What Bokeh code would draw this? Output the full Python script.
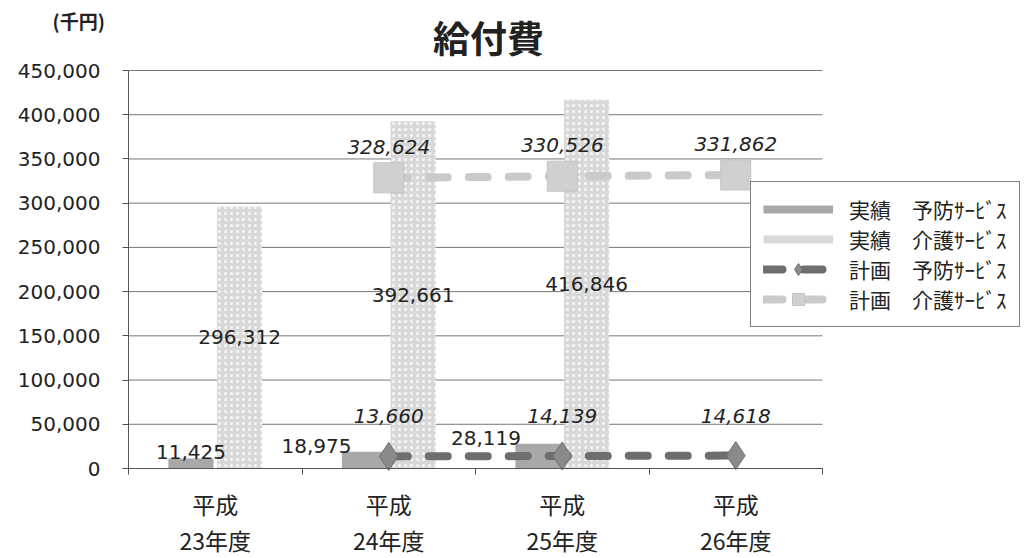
from bokeh.plotting import figure
from bokeh.models import (ColumnDataSource, FixedTicker, NumeralTickFormatter, Legend,
                          LegendItem, Label, Range1d)
from bokeh.core.properties import value
from bokeh.embed import file_html
from bokeh.resources import INLINE
import numpy as np

# ---------------- data ----------------
categories = ["平成\n23年度", "平成\n24年度", "平成\n25年度", "平成\n26年度"]
actual_yobo = [11425, 18975, 28119, None]      # 実績 予防サービス
actual_kaigo = [296312, 392661, 416846, None]  # 実績 介護サービス
plan_yobo = [None, 13660, 14139, 14618]        # 計画 予防サービス
plan_kaigo = [None, 328624, 330526, 331862]    # 計画 介護サービス
series_names = ["実績　予防ｻｰﾋﾞｽ", "実績　介護ｻｰﾋﾞｽ", "計画　予防ｻｰﾋﾞｽ", "計画　介護ｻｰﾋﾞｽ"]
y_ticks = [0, 50000, 100000, 150000, 200000, 250000, 300000, 350000, 400000, 450000]
title_text = "給付費"
unit_text = "(千円)"

# label nudges (px) for the actual 予防 labels (as placed in the original)
yobo_label_nudge = [0, -48, -52]

CJK = "Noto Sans CJK JP"
NUM = "DejaVu Sans"

# ---------------- layout (pixels) ----------------
W, H = 1036, 558
LEFT, RIGHT_EDGE, TOP, BOTTOM = 128, 822, 70, 468   # plot area of the categories
n = len(categories)
centers = np.arange(n) + 0.5
BAR_OFF = 0.14
BAR_W = 0.26

# the frame covers the whole canvas; axes are pinned at the data origin
px_per_x = (RIGHT_EDGE - LEFT) / n
px_per_y = (BOTTOM - TOP) / (y_ticks[-1] - y_ticks[0])
x_start = -LEFT / px_per_x
x_end = n + (W - RIGHT_EDGE) / px_per_x
y_start = y_ticks[0] - (H - BOTTOM) / px_per_y
y_end = y_ticks[-1] + TOP / px_per_y


def src(vals, off=0.0):
    idx = [i for i, v in enumerate(vals) if v is not None]
    xs = [centers[i] + off for i in idx]
    ys = [vals[i] for i in idx]
    return ColumnDataSource(dict(x=xs, y=ys, half=[v / 2 for v in ys],
                                 label=[f"{v:,}" for v in ys]))


s_ay = src(actual_yobo, -BAR_OFF)
s_ak = src(actual_kaigo, BAR_OFF)
s_py = src(plan_yobo)
s_pk = src(plan_kaigo)
s_ay.data["nudge"] = yobo_label_nudge[:len(s_ay.data["x"])]

p = figure(width=W, height=H, output_backend="svg", toolbar_location=None,
           x_range=Range1d(x_start, x_end), y_range=Range1d(y_start, y_end),
           min_border=0)
p.outline_line_color = None
p.background_fill_color = "white"
p.border_fill_color = "white"
p.title.visible = False

# axes (pinned at data origin so nothing takes side-panel space)
p.yaxis.fixed_location = 0
p.yaxis.bounds = (y_ticks[0], y_ticks[-1])
p.yaxis.ticker = FixedTicker(ticks=y_ticks)
p.yaxis.formatter = NumeralTickFormatter(format="0,0")
p.yaxis.major_label_text_font = NUM
p.yaxis.major_label_text_font_size = "20px"
p.yaxis.major_label_text_color = "#222222"
p.yaxis.axis_line_color = "#555555"
p.yaxis.major_tick_line_color = "#555555"
p.yaxis.major_tick_out = 6
p.yaxis.major_tick_in = 0
p.yaxis.minor_tick_line_color = None
p.yaxis.major_label_standoff = 22

p.xaxis.fixed_location = 0
p.xaxis.bounds = (0, n)
p.xaxis.ticker = FixedTicker(ticks=list(centers), minor_ticks=list(range(n + 1)))
p.xaxis.major_label_overrides = {float(c): cat for c, cat in zip(centers, categories)}
p.xaxis.major_label_text_font = CJK
p.xaxis.major_label_text_font_size = "23px"
p.xaxis.major_label_text_color = "#222222"
p.xaxis.major_label_text_line_height = 1.07
p.xaxis.major_label_standoff = 12
p.xaxis.major_tick_line_color = None
p.xaxis.minor_tick_line_color = "#555555"
p.xaxis.minor_tick_out = 6
p.xaxis.minor_tick_in = 0
p.xaxis.axis_line_color = "#555555"

p.xgrid.grid_line_color = None
p.ygrid.grid_line_color = None
# horizontal gridlines only across the category area
p.segment(x0=0, x1=n, y0=y_ticks, y1=y_ticks, line_color="#777777", line_width=1)

# bars
p.vbar(x="x", top="y", bottom=0, width=BAR_W, source=s_ay,
       fill_color="#a8a8a8", line_color=None)
p.vbar(x="x", top="y", bottom=0, width=BAR_W, source=s_ak,
       fill_color="#d8d8d8", line_color=None,
       hatch_pattern="dot", hatch_color="white", hatch_scale=6, hatch_alpha=0.8)

# plan lines
l_pk = p.line(x="x", y="y", source=s_pk, line_color="#cacaca", line_width=8,
              line_dash="19 21", line_cap="round")
m_pk = p.scatter(x="x", y="y", source=s_pk, marker="square", size=30,
                 fill_color="#d0d0d0", line_color="#c4c4c4")
l_py = p.line(x="x", y="y", source=s_py, line_color="#6e6e6e", line_width=8,
              line_dash="19 21", line_cap="round")
m_py = p.scatter(x="x", y="y", source=s_py, marker="diamond", size=28,
                 fill_color="#8a8a8a", line_color="#6e6e6e")

# data labels
p.text(x="x", y="y", text="label", source=s_ay, x_offset="nudge", y_offset=-6,
       text_align="center", text_baseline="middle", text_font=value(NUM),
       text_font_size="20px", text_color="#222222")
p.text(x="x", y="half", text="label", source=s_ak,
       text_align="center", text_baseline="middle", text_font=value(NUM),
       text_font_size="20px", text_color="#222222")
p.text(x="x", y="y", text="label", source=s_py, y_offset=-40,
       text_align="center", text_baseline="middle", text_font=value(NUM),
       text_font_style="italic", text_font_size="20px", text_color="#222222")
p.text(x="x", y="y", text="label", source=s_pk, y_offset=-31,
       text_align="center", text_baseline="middle", text_font=value(NUM),
       text_font_style="italic", text_font_size="20px", text_color="#222222")

# legend proxies for bars (shown as thick lines; a single NaN point draws nothing)
px_ay = p.line(x=np.array([np.nan]), y=np.array([np.nan]), line_color="#a8a8a8", line_width=8)
px_ak = p.line(x=np.array([np.nan]), y=np.array([np.nan]), line_color="#d8d8d8", line_width=8)

legend = Legend(items=[
    LegendItem(label=series_names[0], renderers=[px_ay]),
    LegendItem(label=series_names[1], renderers=[px_ak]),
    LegendItem(label=series_names[2], renderers=[l_py, m_py]),
    LegendItem(label=series_names[3], renderers=[l_pk, m_pk]),
], location=(750, H - 327))
legend.border_line_color = "black"
legend.border_line_width = 1.5
legend.background_fill_color = "white"
legend.background_fill_alpha = 1
legend.label_text_font = CJK
legend.label_text_font_size = "21px"
legend.label_text_color = "#222222"
legend.glyph_width = 70
legend.glyph_height = 30
legend.spacing = 0
legend.padding = 12
legend.margin = 0
legend.label_standoff = 16
p.add_layout(legend, "center")

# title and unit label
p.add_layout(Label(x=488, y=H - 36, x_units="screen", y_units="screen",
                   text=title_text, text_font=CJK, text_font_size="37px",
                   text_font_style="bold", text_color="#222222",
                   text_align="center", text_baseline="middle"))
p.add_layout(Label(x=52, y=H - 20, x_units="screen", y_units="screen",
                   text=unit_text, text_font=CJK, text_font_size="19px",
                   text_font_style="bold", text_color="#222222", text_baseline="middle"))

open("out.html", "w").write(file_html(p, INLINE))
